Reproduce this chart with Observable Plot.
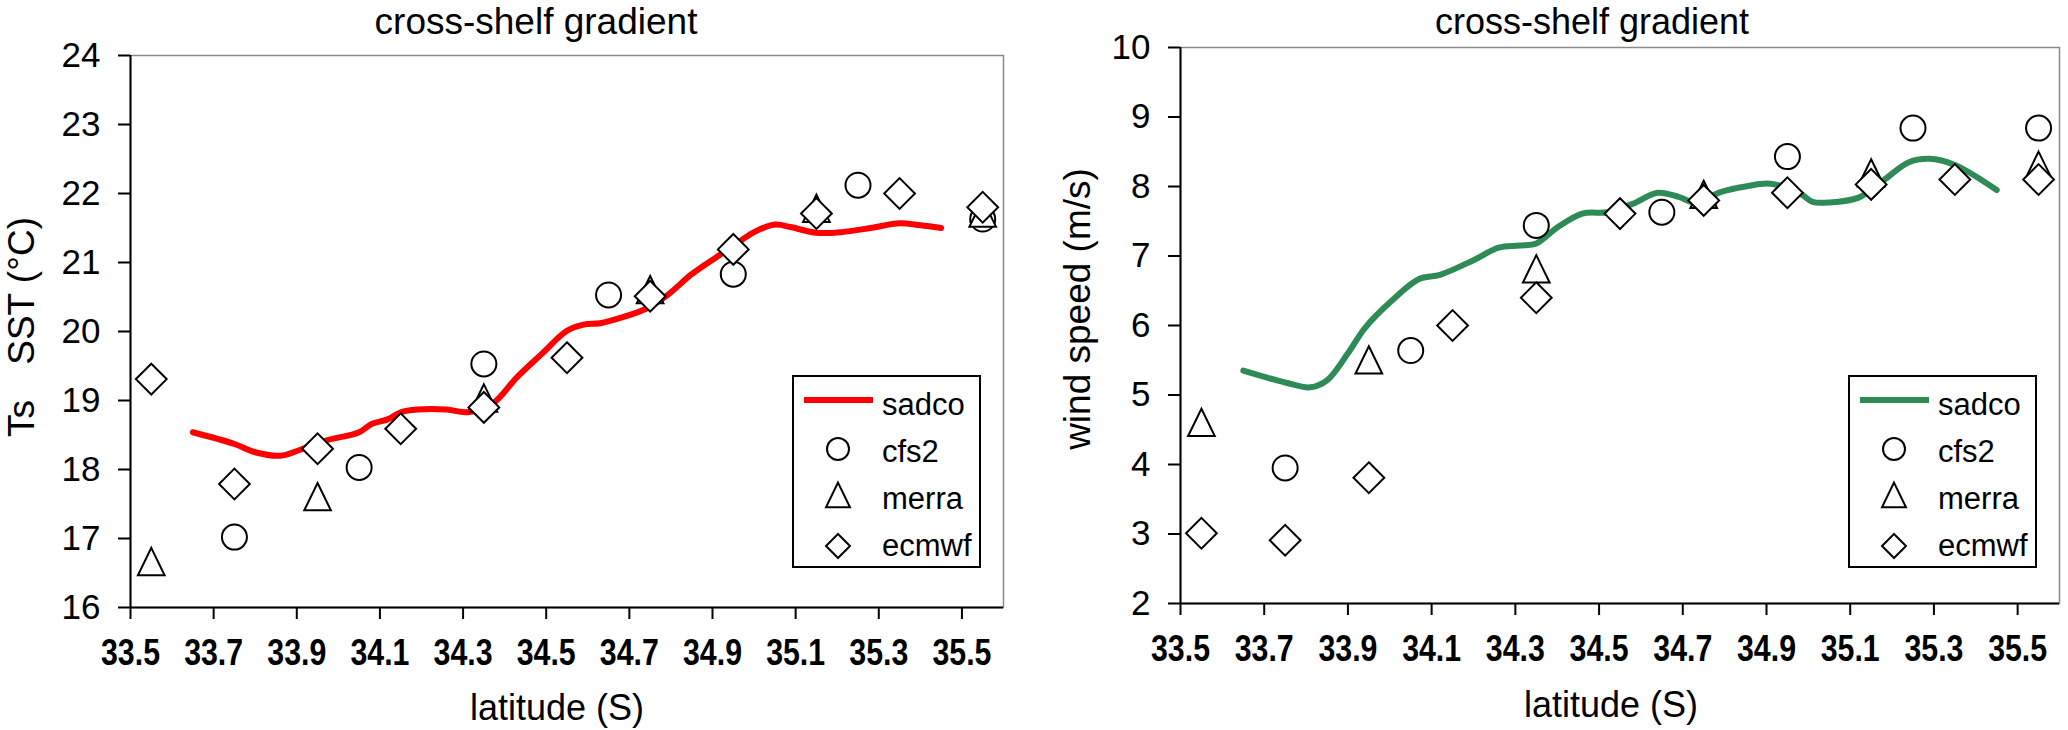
<!DOCTYPE html>
<html><head><meta charset="utf-8">
<script src="https://cdn.jsdelivr.net/npm/d3@7"></script>
<script src="https://cdn.jsdelivr.net/npm/@observablehq/plot@0.6"></script>
<style>
html,body{margin:0;padding:0;background:#fff;}
#wrap{position:relative;width:2068px;height:730px;overflow:hidden;background:#fff;}
#wrap > svg{position:absolute;top:0;}
</style></head><body><div id="wrap"></div>
<script>
// ---- tick labels ----
const xTicks = [33.5, 33.7, 33.9, 34.1, 34.3, 34.5, 34.7, 34.9, 35.1, 35.3, 35.5];
const sstTicks = [16, 17, 18, 19, 20, 21, 22, 23, 24];
const windTicks = [2, 3, 4, 5, 6, 7, 8, 9, 10];
const seriesNames = ["sadco", "cfs2", "merra", "ecmwf"];

// ---- left panel: SST ----
const sstSadcoLat = [33.65, 33.75, 33.80, 33.86, 33.91, 33.97, 34.05, 34.08, 34.12, 34.15, 34.19, 34.26, 34.31, 34.37, 34.43, 34.49, 34.55, 34.59, 34.63, 34.68, 34.74, 34.79, 34.85, 34.91, 34.95, 35.00, 35.05, 35.09, 35.15, 35.21, 35.28, 35.35, 35.40, 35.45];
const sstSadcoVal = [18.54, 18.37, 18.25, 18.20, 18.29, 18.42, 18.54, 18.66, 18.73, 18.83, 18.87, 18.87, 18.83, 18.95, 19.34, 19.68, 20.01, 20.10, 20.12, 20.20, 20.33, 20.52, 20.83, 21.08, 21.24, 21.44, 21.55, 21.51, 21.43, 21.44, 21.50, 21.57, 21.54, 21.50];
const sstCfs2Lat = [33.75, 34.05, 34.35, 34.65, 34.95, 35.25, 35.55];
const sstCfs2Val = [17.02, 18.03, 19.53, 20.53, 20.83, 22.12, 21.63];
const sstMerraLat = [33.55, 33.95, 34.35, 34.75, 35.15, 35.55];
const sstMerraVal = [16.60, 17.54, 18.97, 20.54, 21.72, 21.65];
const sstEcmwfLat = [33.55, 33.75, 33.95, 34.15, 34.35, 34.55, 34.75, 34.95, 35.15, 35.35, 35.55];
const sstEcmwfVal = [19.31, 17.79, 18.30, 18.59, 18.90, 19.62, 20.51, 21.19, 21.71, 22.00, 21.80];

// ---- right panel: wind speed ----
const windSadcoLat = [33.65, 33.75, 33.81, 33.85, 33.90, 33.94, 34.00, 34.07, 34.12, 34.20, 34.26, 34.31, 34.35, 34.40, 34.46, 34.52, 34.58, 34.64, 34.69, 34.73, 34.79, 34.85, 34.91, 34.98, 35.01, 35.05, 35.12, 35.18, 35.24, 35.29, 35.35, 35.45];
const windSadcoVal = [5.35, 5.18, 5.11, 5.21, 5.60, 5.96, 6.33, 6.67, 6.73, 6.94, 7.12, 7.15, 7.18, 7.41, 7.61, 7.63, 7.75, 7.91, 7.85, 7.77, 7.92, 8.00, 8.04, 7.90, 7.78, 7.77, 7.84, 8.09, 8.35, 8.40, 8.31, 7.95];
const windCfs2Lat = [33.75, 34.05, 34.35, 34.65, 34.95, 35.25, 35.55];
const windCfs2Val = [3.95, 5.64, 7.44, 7.63, 8.43, 8.84, 8.84];
const windMerraLat = [33.55, 33.95, 34.35, 34.75, 35.15, 35.55];
const windMerraVal = [4.54, 5.44, 6.75, 7.82, 8.13, 8.24];
const windEcmwfLat = [33.55, 33.75, 33.95, 34.15, 34.35, 34.55, 34.75, 34.95, 35.15, 35.35, 35.55];
const windEcmwfVal = [3.01, 2.91, 3.81, 6.00, 6.40, 7.61, 7.80, 7.91, 8.03, 8.10, 8.10];

const zip = (lat, val) => lat.map((x, i) => ({lat: x, val: val[i]}));

// custom symbols
const triSym = {draw(ctx, size) {
  const r = Math.sqrt(size / Math.PI), h = 2.1 * r, w = 2.05 * r;
  ctx.moveTo(0, -2 * h / 3); ctx.lineTo(w / 2, h / 3); ctx.lineTo(-w / 2, h / 3); ctx.closePath();
}};
const diaSym = {draw(ctx, size) {
  const r = Math.sqrt(size / Math.PI), a = 1.1 * r;
  ctx.moveTo(0, -a); ctx.lineTo(a, 0); ctx.lineTo(0, a); ctx.lineTo(-a, 0); ctx.closePath();
}};

const FONT = "'Liberation Sans', Arial, sans-serif";
const NARROW = "'Liberation Sans Narrow', 'Liberation Sans', Arial, sans-serif";

function panel({sadco, cfs2, merra, ecmwf, color, yDomain, yTicks, margins}) {
  const xmin = xTicks[0];
  const plot = Plot.plot({
    width: 1034, height: 730,
    marginTop: margins[0], marginRight: margins[1], marginBottom: margins[2], marginLeft: margins[3],
    style: {fontFamily: FONT, background: "transparent", overflow: "visible", color: "black"},
    x: {domain: [xmin, 35.6], label: null},
    y: {domain: yDomain, label: null},
    marks: [
      Plot.frame({stroke: "#8a8a8a", strokeWidth: 1.5}),
      Plot.ruleX([xmin], {stroke: "black", strokeWidth: 2}),
      Plot.ruleY([yDomain[0]], {stroke: "black", strokeWidth: 2}),
      Plot.axisX({ticks: xTicks, tickSize: 12, tickPadding: 19, strokeWidth: 2,
        tickFormat: d => d.toFixed(1), fontSize: 37, fontWeight: "bold", label: null}),
      Plot.axisY({ticks: yTicks, tickSize: 12, tickPadding: 18, strokeWidth: 2,
        tickFormat: d => String(d), fontSize: 35, label: null}),
      Plot.line(sadco, {x: "lat", y: "val", stroke: color, strokeWidth: 6, curve: "catmull-rom"}),
      Plot.dot(cfs2, {x: "lat", y: "val", r: 12.5, symbol: "circle", fill: "white", stroke: "black", strokeWidth: 2}),
      Plot.dot(merra, {x: "lat", y: "val", r: 13, symbol: triSym, fill: "white", stroke: "black", strokeWidth: 2}),
      Plot.dot(ecmwf, {x: "lat", y: "val", r: 14, symbol: diaSym, fill: "white", stroke: "black", strokeWidth: 2})
    ]
  });
  const s = d3.select(plot);
  s.selectAll('[aria-label="x-axis tick label"] text')
    .attr("font-family", NARROW).attr("font-weight", "bold").attr("font-size", 37)
    .attr("textLength", 59).attr("lengthAdjust", "spacingAndGlyphs");
  s.selectAll('[aria-label="y-axis tick label"] text')
    .attr("font-family", FONT).attr("font-size", 35);
  return plot;
}

const wrap = document.getElementById("wrap");
const left = panel({
  sadco: zip(sstSadcoLat, sstSadcoVal), cfs2: zip(sstCfs2Lat, sstCfs2Val),
  merra: zip(sstMerraLat, sstMerraVal), ecmwf: zip(sstEcmwfLat, sstEcmwfVal),
  color: "#ff0000", yDomain: [16, 24], yTicks: sstTicks, margins: [55, 31, 123, 130]
});
left.style.left = "0px";
wrap.appendChild(left);
const right = panel({
  sadco: zip(windSadcoLat, windSadcoVal), cfs2: zip(windCfs2Lat, windCfs2Val),
  merra: zip(windMerraLat, windMerraVal), ecmwf: zip(windEcmwfLat, windEcmwfVal),
  color: "#2e8b57", yDomain: [2, 10], yTicks: windTicks, margins: [47, 9, 127, 146]
});
right.style.left = "1034px";
wrap.appendChild(right);

// ---- overlay: titles, axis titles, legends ----
const ov = d3.select(wrap).append("svg")
  .attr("width", 2068).attr("height", 730)
  .style("left", "0px").style("pointer-events", "none")
  .attr("font-family", FONT);

function txt(x, y, s, size, anchor, rot) {
  const t = ov.append("text").attr("font-size", size).attr("text-anchor", anchor || "middle")
    .attr("fill", "black").text(s);
  t.attr("transform", `translate(${x},${y})` + (rot ? ` rotate(${rot})` : ""));
  return t;
}
// titles
txt(536, 34, "cross-shelf gradient", 37);
txt(1592, 34, "cross-shelf gradient", 36);
// x axis titles
txt(557, 720, "latitude (S)", 36);
txt(1611, 717, "latitude (S)", 36);
// y axis titles
txt(34, 437, "Ts", 37, "start", -90);
txt(34, 217, "SST (°C)", 37, "end", -90);
txt(1090, 309, "wind speed (m/s)", 37, "middle", -90);

function legend(x0, y0, color) {
  const g = ov.append("g").attr("transform", `translate(${x0},${y0})`);
  g.append("rect").attr("x", 0).attr("y", 0).attr("width", 187).attr("height", 191)
    .attr("fill", "white").attr("stroke", "black").attr("stroke-width", 2);
  g.append("line").attr("x1", 11).attr("x2", 80).attr("y1", 24).attr("y2", 24)
    .attr("stroke", color).attr("stroke-width", 6);
  const sym = [null, d3.symbolCircle, triSym, diaSym];
  const rr = [0, 11, 11.7, 10.9];
  const cy = [24, 73, 123, 170];
  const by = [39, 86, 133, 180];
  seriesNames.forEach((name, i) => {
    if (i > 0) {
      g.append("path").attr("transform", `translate(45,${cy[i]})`)
        .attr("d", d3.symbol(sym[i], Math.PI * rr[i] * rr[i])())
        .attr("fill", "white").attr("stroke", "black").attr("stroke-width", 2);
    }
    g.append("text").attr("x", 89).attr("y", by[i]).attr("font-size", 31).attr("fill", "black").text(name);
  });
}
legend(793, 376, "#ff0000");
legend(1849, 376, "#2e8b57");
</script></body></html>
